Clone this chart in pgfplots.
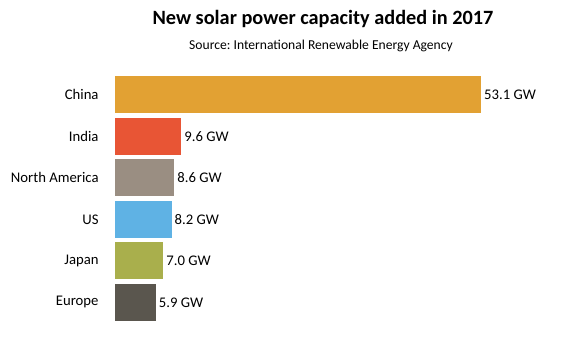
\documentclass[border=0pt]{standalone}
\usepackage{pgfplots}
\pgfplotsset{compat=1.18}
\usepackage{fontspec}
\setmainfont{Carlito}
\frenchspacing
\definecolor{cChina}{HTML}{E2A133}
\definecolor{cIndia}{HTML}{E85535}
\definecolor{cNA}{HTML}{9A8E82}
\definecolor{cUS}{HTML}{5FB2E4}
\definecolor{cJapan}{HTML}{A9AF4C}
\definecolor{cEurope}{HTML}{5A564E}
\begin{document}
\begin{tikzpicture}[x=1pt,y=1pt]
\useasboundingbox (0,0) rectangle (563,350);
\node[anchor=base,font=\fontsize{20.3}{22}\selectfont\bfseries] at (323,325) {New solar power capacity added in 2017};
\node[anchor=base,font=\fontsize{13.6}{15}\selectfont] at (321,300) {Source: International Renewable Energy Agency};
\begin{axis}[
  at={(115pt,26.95pt)}, anchor=south west,
  scale only axis, width=366pt, height=249pt,
  xmin=0, xmax=53.1, ymin=0.5, ymax=6.5,
  xbar, bar width=37pt, bar shift=0pt,
  axis line style={draw=none}, tick style={draw=none},
  xtick=\empty,
  ytick={1,2,3,4,5,6},
  yticklabels={Europe,Japan,US,North America,India,China},
  yticklabel style={font=\fontsize{14.7}{16}\selectfont, inner sep=0pt, xshift=-12pt},
  clip=false,
  /pgf/number format/assume math mode=true,
  nodes near coords={\pgfmathprintnumber[fixed,precision=1,fixed zerofill,assume math mode=true]{\pgfplotspointmeta}~GW},
  nodes near coords style={font=\fontsize{14.7}{16}\selectfont, anchor=west, inner sep=3pt, text=black},
  point meta=x,
]
\addplot[fill=cEurope, draw=none] coordinates {(5.9,1)};
\addplot[fill=cJapan, draw=none] coordinates {(7.0,2)};
\addplot[fill=cUS, draw=none] coordinates {(8.2,3)};
\addplot[fill=cNA, draw=none] coordinates {(8.6,4)};
\addplot[fill=cIndia, draw=none] coordinates {(9.6,5)};
\addplot[fill=cChina, draw=none] coordinates {(53.1,6)};
\end{axis}
\end{tikzpicture}
\end{document}
